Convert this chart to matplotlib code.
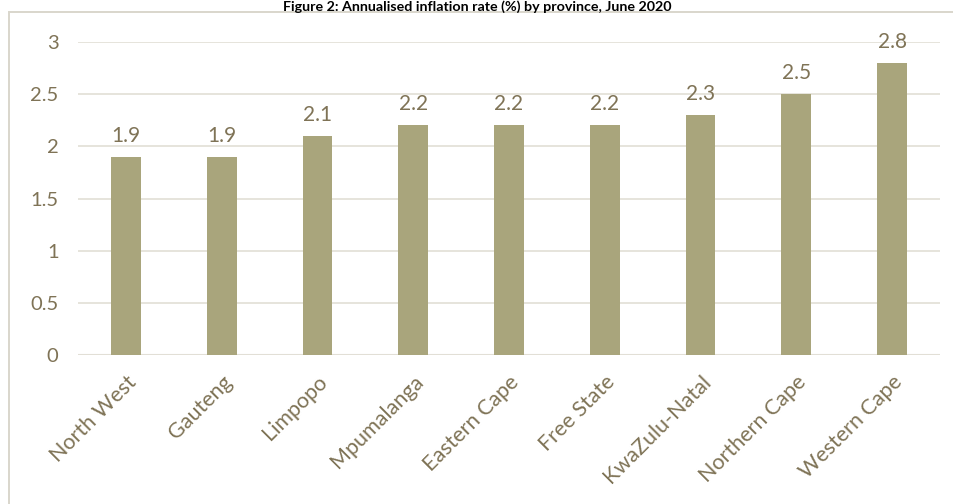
import matplotlib
matplotlib.use("Agg")
import matplotlib.pyplot as plt
from matplotlib.patches import Rectangle

provinces = ["North West", "Gauteng", "Limpopo", "Mpumalanga", "Eastern Cape",
             "Free State", "KwaZulu-Natal", "Northern Cape", "Western Cape"]
rates = [1.9, 1.9, 2.1, 2.2, 2.2, 2.2, 2.3, 2.5, 2.8]
yticks = [0, 0.5, 1, 1.5, 2, 2.5, 3]
ytick_labels = ["0", "0.5", "1", "1.5", "2", "2.5", "3"]
title = "Figure 2: Annualised inflation rate (%) by province, June 2020"

W, H = 954, 504
plt.rcParams['font.family'] = ['Lato', 'DejaVu Sans']
txt = "#7F7356"
grid = "#E2DFD6"
bar_c = "#A9A57C"

fig = plt.figure(figsize=(W/100, H/100), dpi=100)
ax = fig.add_axes([78/W, 1-355/H, (940-78)/W, (355-42)/H])

x = list(range(len(provinces)))
ax.bar(x, rates, width=0.31, color=bar_c, zorder=3)
ax.set_xlim(-0.5, len(provinces)-0.5)
ax.set_ylim(0, 3)
ax.set_yticks(yticks)
ax.set_yticklabels(ytick_labels)
ax.set_xticks(x)
ax.set_xticklabels(provinces, rotation=45, ha='right', rotation_mode='anchor')
ax.tick_params(axis='y', length=0, pad=14, labelsize=14.5, labelcolor=txt)
ax.tick_params(axis='x', length=0, pad=12, labelsize=15.5, labelcolor=txt)
ax.yaxis.grid(True, color=grid, linewidth=1.2, zorder=0)
for s in ax.spines.values():
    s.set_visible(False)
ax.axhline(0, color=grid, linewidth=1.5, zorder=2)

for xi, v in zip(x, rates):
    ax.annotate(f"{v:g}", (xi, v), xytext=(0, 8), textcoords='offset points',
                ha='center', va='bottom', fontsize=15, color=txt)

fig.patches.append(Rectangle((9/W, -10/H), (W+10-9)/W, (H-12+10)/H,
                             transform=fig.transFigure, fill=False,
                             edgecolor="#D9D6CC", linewidth=1.4))
fig.text(0.5, 1.0, title, ha='center', va='top', fontsize=10.3,
         fontweight='bold', color="#000000")

fig.savefig("out.png", dpi=100)
